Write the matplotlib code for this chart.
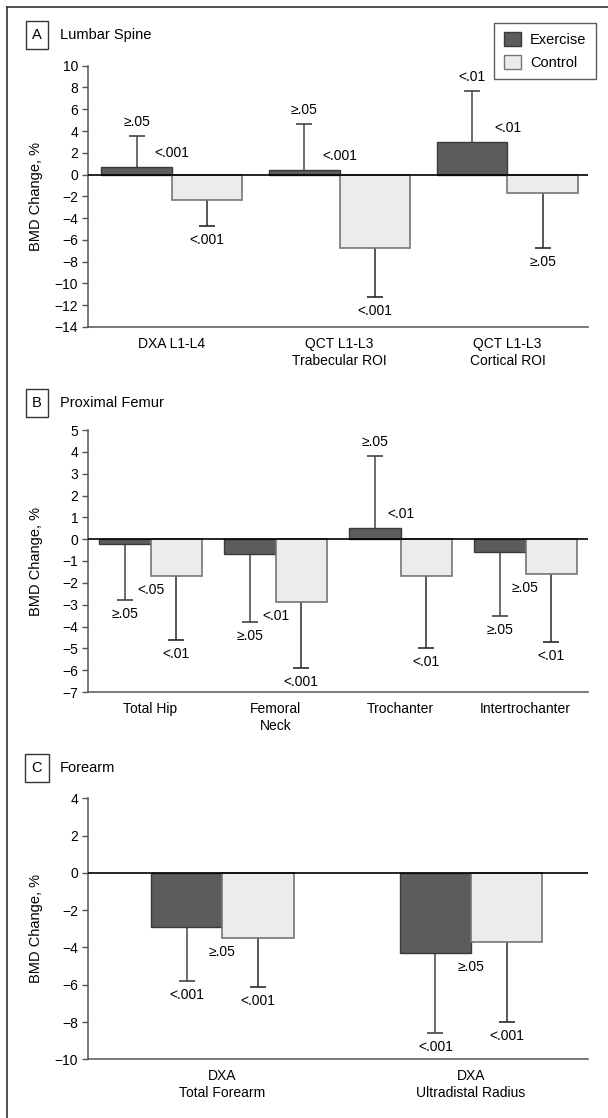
import numpy as np
import matplotlib
matplotlib.use("Agg")
import matplotlib.pyplot as plt
from matplotlib.lines import Line2D

plt.rcParams['font.family'] = ['Liberation Sans Narrow', 'Liberation Sans', 'DejaVu Sans']
plt.rcParams['font.size'] = 10

# panel A - lumbar spine
a_cats = ['DXA L1-L4', 'QCT L1-L3\nTrabecular ROI', 'QCT L1-L3\nCortical ROI']
a_ex = [0.7, 0.4, 3.0]
a_ex_sd = [2.8, 4.2, 4.7]
a_ctrl = [-2.3, -6.7, -1.7]
a_ctrl_sd = [2.4, 4.5, 5.0]
a_p_ex = ['≥.05', '≥.05', '<.01']
a_p_mid = ['<.001', '<.001', '<.01']
a_p_ctrl = ['<.001', '<.001', '≥.05']
a_ticks = list(range(-14, 11, 2))

# panel B - proximal femur
b_cats = ['Total Hip', 'Femoral\nNeck', 'Trochanter', 'Intertrochanter']
b_ex = [-0.2, -0.7, 0.5, -0.6]
b_ex_sd = [2.6, 3.1, 3.3, 2.9]
b_ctrl = [-1.7, -2.9, -1.7, -1.6]
b_ctrl_sd = [2.9, 3.0, 3.3, 3.1]
b_p_ex = ['≥.05', '≥.05', '≥.05', '≥.05']
b_p_mid = ['<.05', '<.01', '<.01', '≥.05']
b_p_ctrl = ['<.01', '<.001', '<.01', '<.01']
b_ticks = list(range(-7, 6, 1))

# panel C - forearm
c_cats = ['DXA\nTotal Forearm', 'DXA\nUltradistal Radius']
c_ex = [-2.9, -4.3]
c_ex_sd = [2.9, 4.3]
c_ctrl = [-3.5, -3.7]
c_ctrl_sd = [2.6, 4.3]
c_p_ex = ['<.001', '<.001']
c_p_mid = ['≥.05', '≥.05']
c_p_ctrl = ['<.001', '<.001']
c_ticks = list(range(-10, 5, 2))

EX_COL = '#5b5c5e'
CTRL_COL = '#ebeceb'
W, H = 608, 1118

fig = plt.figure(figsize=(W / 100, H / 100), dpi=100)


def one_sided(ax, x, vals, sds, lcol):
    vals = np.array(vals)
    sds = np.array(sds)
    lo = np.where(vals < 0, sds, 0)
    hi = np.where(vals >= 0, sds, 0)
    ends = np.where(vals >= 0, vals + sds, vals - sds)
    ax.errorbar(x, vals, yerr=[lo, hi], fmt='none', ecolor=lcol, elinewidth=1.1, capsize=0, zorder=1)
    ax.plot(x, ends, ls='none', marker='_', ms=11, mew=1.2, color=lcol, zorder=1)
    return ends


def panel(rect, cats, ex, ex_sd, ctrl, ctrl_sd, p_ex, p_mid, p_ctrl, ticks, xlim, w):
    ax = fig.add_axes(rect)
    x = np.arange(len(cats))
    ax.bar(x - w / 2, ex, w, color=EX_COL, edgecolor='#3a3a3a', lw=1, zorder=2)
    ax.bar(x + w / 2, ctrl, w, color=CTRL_COL, edgecolor='#767676', lw=1.2, zorder=2)
    ex_end = one_sided(ax, x - w / 2, ex, ex_sd, '#444444')
    ctrl_end = one_sided(ax, x + w / 2, ctrl, ctrl_sd, '#2a2a2a')
    ax.axhline(0, color='black', lw=1.2, zorder=3)

    for i in range(len(cats)):
        for xx, e, lab in [(x[i] - w / 2, ex_end[i], p_ex[i]), (x[i] + w / 2, ctrl_end[i], p_ctrl[i])]:
            off = 14 if e >= 0 else -14
            ax.annotate(lab, (xx, e), xytext=(0, off), textcoords='offset pixels',
                        ha='center', va='center', fontsize=10)
        if ex[i] > 0:
            anchor, off = max(ex[i], ctrl[i]), 14
        else:
            anchor, off = min(ex[i], ctrl[i]), -14
        ax.annotate(p_mid[i], (x[i], anchor), xytext=(0, off), textcoords='offset pixels',
                    ha='center', va='center', fontsize=10)

    ax.set_xlim(*xlim)
    ax.set_ylim(ticks[0], ticks[-1])
    ax.set_yticks(ticks)
    ax.set_xticks(x)
    ax.set_xticklabels(cats, fontsize=10, linespacing=1.3)
    ax.tick_params(axis='x', length=0, pad=7)
    ax.tick_params(axis='y', length=4, width=1, color='#555555', pad=3, labelsize=10)
    for s in ['top', 'right']:
        ax.spines[s].set_visible(False)
    for s in ['left', 'bottom']:
        ax.spines[s].set_color('#555555')
        ax.spines[s].set_linewidth(1.1)
    ax.set_ylabel('BMD Change, %', fontsize=10.5)
    ax.yaxis.set_label_coords(-0.09, 0.5)
    return ax


def fx(px):
    return px / W


def fy(py):
    return 1 - py / H


axA = panel([fx(88), fy(327), fx(500), fy(65.7) - fy(327)], a_cats, a_ex, a_ex_sd, a_ctrl, a_ctrl_sd,
            a_p_ex, a_p_mid, a_p_ctrl, a_ticks, (-0.5, 2.48), 0.42)
axB = panel([fx(88), fy(692), fx(500), fy(430) - fy(692)], b_cats, b_ex, b_ex_sd, b_ctrl, b_ctrl_sd,
            b_p_ex, b_p_mid, b_p_ctrl, b_ticks, (-0.5, 3.5), 0.41)
axC = panel([fx(88), fy(1059.3), fx(500), fy(798.3) - fy(1059.3)], c_cats, c_ex, c_ex_sd, c_ctrl, c_ctrl_sd,
            c_p_ex, c_p_mid, c_p_ctrl, c_ticks, (-0.54, 1.47), 0.287)

# panel letters and titles
for letter, title, ypx in [('A', 'Lumbar Spine', 35), ('B', 'Proximal Femur', 403), ('C', 'Forearm', 768)]:
    fig.text(fx(37), fy(ypx), letter, ha='center', va='center', fontsize=10.5,
             bbox=dict(boxstyle='square,pad=0.45', fc='white', ec='#333333', lw=1))
    fig.text(fx(60), fy(ypx), title, ha='left', va='center', fontsize=10.5)

# legend
handles = [plt.Rectangle((0, 0), 1, 1, fc=EX_COL, ec='#3a3a3a'),
           plt.Rectangle((0, 0), 1, 1, fc=CTRL_COL, ec='#767676')]
leg = fig.legend(handles, ['Exercise', 'Control'], loc='upper right', bbox_to_anchor=(fx(596), fy(23)),
                 bbox_transform=fig.transFigure, fancybox=False, edgecolor='#333333', fontsize=10.5,
                 handlelength=1.2, handleheight=1.1, handletextpad=0.6, borderpad=0.65, labelspacing=0.5,
                 borderaxespad=0)
leg.get_frame().set_linewidth(1)

# outer frame (cropped on right/bottom)
fig.add_artist(Line2D([fx(7), fx(7)], [0, fy(7)], transform=fig.transFigure, color='#333333', lw=1.2))
fig.add_artist(Line2D([fx(7), 1], [fy(7), fy(7)], transform=fig.transFigure, color='#333333', lw=1.2))

fig.savefig('out.png', dpi=100)
